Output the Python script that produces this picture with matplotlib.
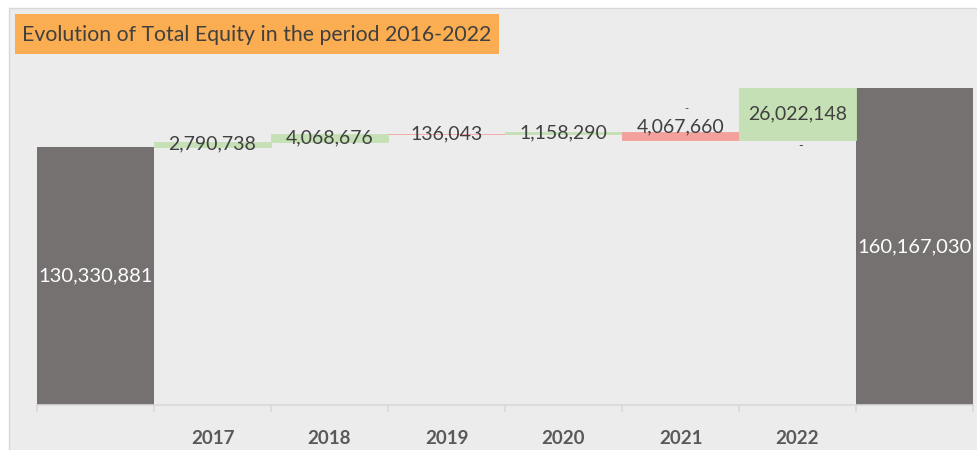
import matplotlib
matplotlib.use('Agg')
import matplotlib.pyplot as plt
from matplotlib.patches import Rectangle

# data
categories = ['', '2017', '2018', '2019', '2020', '2021', '2022', '']
start_value = 130330881
changes = [2790738, 4068676, -136043, 1158290, -4067660, 26022148]
end_value = 160167030
label_place = ['center', 'center', 'center', 'center', 'above', 'center']

gray = '#757170'
green = '#c5e0b4'
red = '#f4a19d'
bg = '#ececec'
txt = '#404040'

plt.rcParams['font.family'] = ['Lato', 'DejaVu Sans']

fig = plt.figure(figsize=(9.77, 4.5), dpi=100)
fig.patch.set_facecolor('white')
W, H = 977, 450
# chart area background
fig.patches.append(Rectangle((9 / W, -0.01), 1.0, (H - 8) / H + 0.01,
                             transform=fig.transFigure, facecolor=bg,
                             edgecolor='#d9d9d9', linewidth=1, zorder=-10))
# title box
fig.patches.append(Rectangle((15 / W, 1 - 54 / H), 484 / W, 40 / H,
                             transform=fig.transFigure, facecolor='#fbad52',
                             edgecolor='none', zorder=-5))
fig.text(22 / W, 1 - 35 / H, 'Evolution of Total Equity in the period 2016-2022',
         ha='left', va='center', fontsize=15.3, color=txt)

ax = fig.add_axes([37 / W, 45 / H, 936 / W, 335 / H])
ax.patch.set_alpha(0)

# totals
ax.bar(0, start_value, width=1.0, color=gray)
ax.bar(len(categories) - 1, end_value, width=1.0, color=gray)
ax.text(0, start_value / 2, f'{start_value:,}', ha='center', va='center',
        color='white', fontsize=14.5)
ax.text(len(categories) - 1, end_value / 2, f'{end_value:,}', ha='center',
        va='center', color='white', fontsize=14.5)

running = start_value
for i, c in enumerate(changes):
    x = i + 1
    col = green if c > 0 else red
    bottom = running if c > 0 else running + c
    ax.bar(x, abs(c), bottom=bottom, width=1.0, color=col,
           edgecolor=col, linewidth=0.6)
    if label_place[i] == 'above':
        ax.text(x, bottom + abs(c) - 2.0e6, f'{abs(c):,}', ha='center',
                va='bottom', color=txt, fontsize=14)
        # stray "-" label of the empty series
        ax.text(x + 0.05, bottom + abs(c) + 11.5e6, '-', ha='center',
                va='center', color=txt, fontsize=8)
    else:
        ax.text(x, bottom + abs(c) / 2, f'{abs(c):,}', ha='center',
                va='center', color=txt, fontsize=14)
    if c > 20e6:
        ax.text(x + 0.03, bottom - 0.3e6, '-', ha='center', va='top',
                color=txt, fontsize=9)
    running += c

ax.set_xlim(-0.5, len(categories) - 0.5)
ax.set_ylim(0, 169.3e6)
for s in ['top', 'right', 'left']:
    ax.spines[s].set_visible(False)
ax.spines['bottom'].set_color('#d9d9d9')
ax.spines['bottom'].set_linewidth(1.2)
ax.set_yticks([])
ax.set_xticks([i + 0.5 for i in range(-1, len(categories))])
ax.set_xticklabels([])
ax.tick_params(axis='x', length=5, color='#d9d9d9', width=1.2)
for i, lab in enumerate(categories):
    ax.text(i, -17e6, lab, ha='center', va='center', color='#595959',
            fontsize=13.5, fontweight='bold')

fig.savefig('out.png', dpi=100, facecolor=fig.get_facecolor())
